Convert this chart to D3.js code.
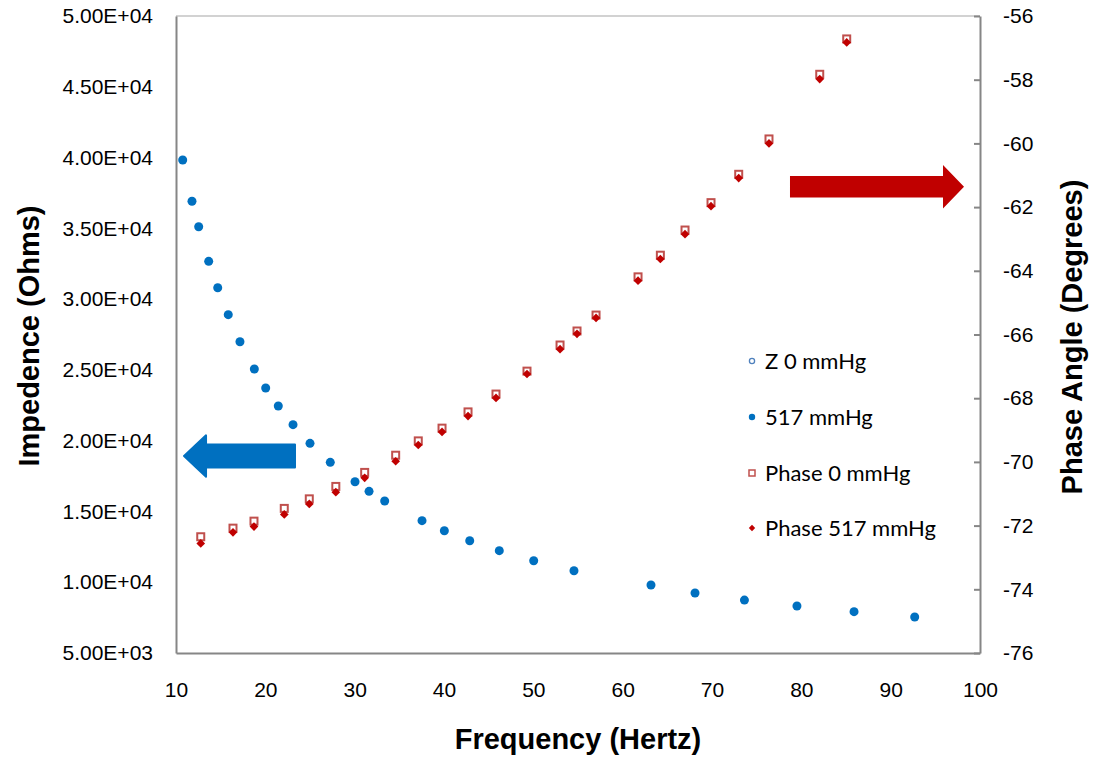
<!DOCTYPE html>
<html>
<head>
<meta charset="utf-8">
<script src="https://cdn.jsdelivr.net/npm/d3@7"></script>
<style>
  html, body { margin: 0; padding: 0; background: #fff; }
  svg { display: block; }
</style>
</head>
<body>
<svg id="chart" width="1096" height="759"></svg>
<script>
// ---- Data ----
const impFreq = [10.75, 11.79, 12.54, 13.66, 14.67, 15.85, 17.16, 18.77, 20.04, 21.45, 23.10, 25.00, 27.27, 30.04, 31.61, 33.36, 37.54, 40.04, 42.88, 46.19, 50.04, 54.55, 63.17, 68.10, 73.63, 79.51, 85.90, 92.69];
const z0mmHg   = [39830, 36910, 35110, 32670, 30800, 28900, 26990, 25060, 23720, 22450, 21130, 19810, 18470, 17100, 16420, 15740, 14350, 13640, 12930, 12230, 11520, 10810, 9800, 9240, 8740, 8320, 7920, 7540];
const z517mmHg = [39830, 36910, 35110, 32670, 30800, 28900, 26990, 25060, 23720, 22450, 21130, 19810, 18470, 17100, 16420, 15740, 14350, 13640, 12930, 12230, 11520, 10810, 9800, 9240, 8740, 8320, 7920, 7540];

const phaseFreq = [12.77, 16.38, 18.73, 22.12, 24.92, 27.89, 31.12, 34.59, 37.12, 39.78, 42.69, 45.82, 49.29, 52.99, 54.89, 57.02, 61.72, 64.22, 66.98, 69.89, 72.99, 76.38, 82.06, 85.08];
const phase0mmHg   = [-72.35, -72.08, -71.86, -71.46, -71.16, -70.77, -70.33, -69.79, -69.34, -68.94, -68.43, -67.87, -67.15, -66.33, -65.89, -65.39, -64.19, -63.51, -62.72, -61.86, -60.97, -59.86, -57.83, -56.72];
const phase517mmHg = [-72.56, -72.21, -72.03, -71.65, -71.32, -70.95, -70.50, -69.98, -69.47, -69.06, -68.56, -67.99, -67.24, -66.46, -65.98, -65.48, -64.31, -63.63, -62.85, -61.97, -61.09, -60.00, -57.98, -56.83];

const xTicks = [10, 20, 30, 40, 50, 60, 70, 80, 90, 100];
const leftTicks = [5000, 10000, 15000, 20000, 25000, 30000, 35000, 40000, 45000, 50000];
const rightTicks = [-76, -74, -72, -70, -68, -66, -64, -62, -60, -58, -56];

const legendLabels = ["Z 0 mmHg", "517 mmHg", "Phase 0 mmHg", "Phase 517 mmHg"];

// ---- Layout ----
const plot = { left: 176, top: 16, right: 980, bottom: 653 };
const BLUE = "#0070C0", RED = "#C00000", RED_LIGHT = "#C0504D", AXIS = "#868686";

const svg = d3.select("#chart");
const x = d3.scaleLinear().domain([10, 100]).range([plot.left, plot.right]);
const yL = d3.scaleLinear().domain([5000, 50000]).range([plot.bottom, plot.top]);
const yR = d3.scaleLinear().domain([-76, -56]).range([plot.bottom, plot.top]);

const sciFmt = d => {
  const [m, e] = d.toExponential(2).split("e");
  return m + "E" + e[0] + e.slice(1).padStart(2, "0");
};

// top border
svg.append("line")
  .attr("x1", plot.left).attr("x2", plot.right)
  .attr("y1", plot.top).attr("y2", plot.top)
  .attr("stroke", "#a6a6a6").attr("stroke-width", 1.2);

const tickFont = g => g.selectAll("text")
  .attr("font-family", "'Liberation Sans', Arial, sans-serif")
  .attr("font-size", 21).attr("fill", "#000");

// bottom axis
svg.append("g")
  .attr("transform", `translate(0,${plot.bottom})`)
  .call(d3.axisBottom(x).tickValues(xTicks).tickSize(0).tickPadding(29).tickFormat(d3.format("d")))
  .call(g => g.select(".domain").attr("stroke", AXIS).attr("stroke-width", 2))
  .call(tickFont);

// left axis
svg.append("g")
  .attr("transform", `translate(${plot.left},0)`)
  .call(d3.axisLeft(yL).tickValues(leftTicks).tickSize(0).tickPadding(23).tickFormat(sciFmt))
  .call(g => g.select(".domain").attr("stroke", AXIS).attr("stroke-width", 2))
  .call(tickFont);

// right axis
svg.append("g")
  .attr("transform", `translate(${plot.right},0)`)
  .call(d3.axisRight(yR).tickValues(rightTicks).tickSizeInner(-6).tickSizeOuter(0).tickPadding(23).tickFormat(d3.format("d")))
  .call(g => g.select(".domain").attr("stroke", AXIS).attr("stroke-width", 2))
  .call(g => g.selectAll(".tick line").attr("stroke", AXIS).attr("stroke-width", 2))
  .call(tickFont)
  .call(g => g.selectAll("text").text(d => String(d)));

// axis titles
const titleFont = "'Liberation Sans', Arial, sans-serif";
svg.append("text")
  .attr("x", (plot.left + plot.right) / 2).attr("y", 749)
  .attr("text-anchor", "middle")
  .attr("font-family", titleFont).attr("font-weight", "bold").attr("font-size", 29)
  .text("Frequency (Hertz)");
svg.append("text")
  .attr("transform", `translate(39,336) rotate(-90)`)
  .attr("text-anchor", "middle")
  .attr("font-family", titleFont).attr("font-weight", "bold").attr("font-size", 29)
  .text("Impedence (Ohms)");
svg.append("text")
  .attr("transform", `translate(1082,337) rotate(-90)`)
  .attr("text-anchor", "middle")
  .attr("font-family", titleFont).attr("font-weight", "bold").attr("font-size", 29)
  .text("Phase Angle (Degrees)");

// ---- Marks ----
const impData0 = impFreq.map((f, i) => ({ f, v: z0mmHg[i] }));
const impData517 = impFreq.map((f, i) => ({ f, v: z517mmHg[i] }));
const phData0 = phaseFreq.map((f, i) => ({ f, v: phase0mmHg[i] }));
const phData517 = phaseFreq.map((f, i) => ({ f, v: phase517mmHg[i] }));

// Z 0 mmHg (hollow circles, hidden under 517)
svg.append("g").selectAll("circle").data(impData0).join("circle")
  .attr("cx", d => x(d.f)).attr("cy", d => yL(d.v)).attr("r", 3)
  .attr("fill", "#fff").attr("stroke", "#4F81BD").attr("stroke-width", 1.2);

// 517 mmHg filled circles
svg.append("g").selectAll("circle").data(impData517).join("circle")
  .attr("cx", d => x(d.f)).attr("cy", d => yL(d.v)).attr("r", 4.5)
  .attr("fill", BLUE);

// Phase 0: hollow squares
svg.append("g").selectAll("rect").data(phData0).join("rect")
  .attr("x", d => x(d.f) - 3.5).attr("y", d => yR(d.v) - 3.5)
  .attr("width", 7).attr("height", 7)
  .attr("fill", "#fff").attr("stroke", RED_LIGHT).attr("stroke-width", 2);

// Phase 517: filled diamonds
const diamond = d3.symbol().type(d3.symbolDiamond2).size(48);
svg.append("g").selectAll("path").data(phData517).join("path")
  .attr("transform", d => `translate(${x(d.f)},${yR(d.v)})`)
  .attr("d", diamond)
  .attr("fill", RED);

// ---- Arrows (annotation, positioned in data space) ----
const blueArrow = { tipF: 10.9, tailF: 23.32, v: 18916 };
{
  const tx = x(blueArrow.tipF), ex = x(blueArrow.tailF), cy = yL(blueArrow.v);
  const hw = 20.7, sw = 11.5, hl = 22;
  const p = d3.path();
  p.moveTo(tx, cy);
  p.lineTo(tx + hl, cy - hw);
  p.lineTo(tx + hl, cy - sw);
  p.lineTo(ex, cy - sw);
  p.lineTo(ex, cy + sw);
  p.lineTo(tx + hl, cy + sw);
  p.lineTo(tx + hl, cy + hw);
  p.closePath();
  svg.append("path").attr("d", p.toString())
    .attr("fill", BLUE).attr("stroke", BLUE).attr("stroke-width", 2).attr("stroke-linejoin", "round");
}
const redArrow = { tailF: 78.73, tipF: 98.21, v: -61.36 };
{
  const tx = x(redArrow.tipF), sx = x(redArrow.tailF), cy = yR(redArrow.v);
  const hw = 21.7, sw = 10.7, hl = 21;
  const p = d3.path();
  p.moveTo(sx, cy - sw);
  p.lineTo(tx - hl, cy - sw);
  p.lineTo(tx - hl, cy - hw);
  p.lineTo(tx, cy);
  p.lineTo(tx - hl, cy + hw);
  p.lineTo(tx - hl, cy + sw);
  p.lineTo(sx, cy + sw);
  p.closePath();
  svg.append("path").attr("d", p.toString()).attr("fill", RED);
}

// ---- Legend ----
const legendY = [361, 417, 473, 528];
const lg = svg.append("g");
legendLabels.forEach((lab, i) => {
  const cy = legendY[i], mx = 752;
  if (i === 0) lg.append("circle").attr("cx", mx).attr("cy", cy).attr("r", 2.6).attr("fill", "#fff").attr("stroke", "#4F81BD").attr("stroke-width", 1.3);
  if (i === 1) lg.append("circle").attr("cx", mx).attr("cy", cy).attr("r", 3.2).attr("fill", BLUE);
  if (i === 2) lg.append("rect").attr("x", mx - 3).attr("y", cy - 3).attr("width", 6).attr("height", 6).attr("fill", "#fff").attr("stroke", RED_LIGHT).attr("stroke-width", 1.5);
  if (i === 3) lg.append("path").attr("transform", `translate(${mx},${cy})`).attr("d", d3.symbol().type(d3.symbolDiamond2).size(26)).attr("fill", RED);
  lg.append("text").attr("x", 765).attr("y", cy).attr("dy", "0.36em")
    .attr("font-family", "Lato, 'Open Sans', sans-serif").attr("font-size", 22)
    .attr("fill", "#000").text(lab);
});
</script>
</body>
</html>
